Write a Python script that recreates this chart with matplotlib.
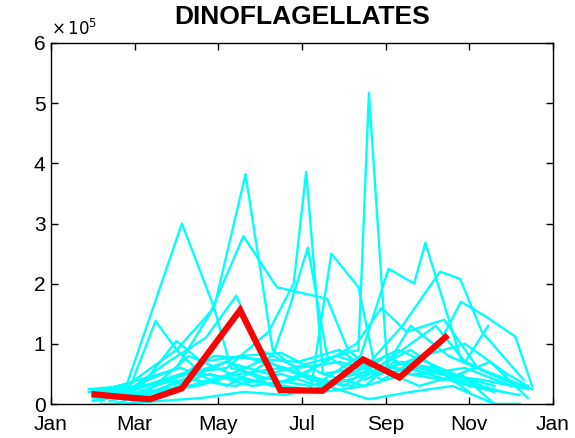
import matplotlib
matplotlib.use('Agg')
import matplotlib.pyplot as plt

# month axis: 1 = Jan 1, 13 = Jan 1 of next year; values in units of 1e5
month_ticks = [1, 3, 5, 7, 9, 11, 13]
month_labels = ['Jan', 'Mar', 'May', 'Jul', 'Sep', 'Nov', 'Jan']

# current year (red)
cur_t = [2.04, 2.8, 3.37, 4.13, 5.52, 6.48, 7.49, 8.46, 9.33, 10.43]
cur_v = [0.16, 0.11, 0.08, 0.26, 1.56, 0.23, 0.22, 0.74, 0.44, 1.11]

# previous years (cyan)
y1_t = [1.95, 2.8, 4.13, 4.9, 5.3, 6.3, 7.2, 8.3, 9.2, 10.3, 11.3, 12.4]
y1_v = [0.25, 0.3, 3.0, 1.6, 0.6, 0.4, 0.3, 0.5, 0.6, 0.5, 0.4, 0.25]
y2_t = [2.0, 2.9, 4.0, 4.9, 5.65, 6.3, 7.0, 8.0, 9.0, 9.9, 10.9, 12.0]
y2_v = [0.2, 0.35, 0.9, 1.6, 3.82, 0.9, 0.5, 0.3, 0.8, 0.5, 0.6, 0.3]
y3_t = [2.0, 3.0, 4.1, 5.2, 6.2, 6.8, 7.1, 7.5, 8.4, 9.3, 10.3, 11.3]
y3_v = [0.1, 0.25, 0.5, 0.6, 1.2, 2.0, 3.86, 0.5, 0.6, 0.9, 0.6, 0.3]
y4_t = [2.2, 3.1, 4.2, 5.2, 6.2, 7.3, 8.35, 8.6, 9.05, 10.0, 11.0, 12.2]
y4_v = [0.05, 0.3, 0.4, 0.7, 0.5, 0.7, 0.9, 5.17, 0.5, 0.5, 0.3, 0.15]
y5_t = [2.1, 3.0, 4.0, 4.8, 5.6, 6.4, 7.6, 8.1, 8.8, 9.8, 10.8, 11.8]
y5_v = [0.15, 0.3, 0.6, 1.5, 2.79, 1.94, 1.75, 0.9, 0.5, 0.6, 0.4, 0.2]
y6_t = [2.0, 3.2, 4.3, 5.3, 6.3, 6.7, 7.14, 7.6, 8.5, 9.4, 10.5, 11.6]
y6_v = [0.05, 0.2, 0.3, 0.5, 0.8, 1.6, 2.6, 0.8, 0.4, 0.7, 0.5, 0.3]
y7_t = [2.3, 3.3, 4.3, 5.2, 6.3, 7.2, 7.7, 8.35, 8.75, 9.6, 10.6, 11.6]
y7_v = [0.1, 0.3, 0.5, 0.7, 0.3, 0.2, 2.5, 1.94, 0.6, 0.9, 0.4, 0.2]
y8_t = [2.5, 3.5, 4.5, 5.5, 6.5, 7.5, 8.4, 9.07, 9.68, 9.95, 10.8, 11.8, 12.5]
y8_v = [0.0, 0.2, 0.3, 0.5, 0.6, 0.4, 0.8, 2.25, 2.0, 2.68, 0.74, 0.4, 0.25]
y9_t = [2.2, 3.3, 4.4, 5.4, 6.5, 7.4, 8.5, 9.4, 10.3, 10.78, 11.3, 12.3]
y9_v = [0.1, 0.1, 0.4, 0.3, 0.5, 0.3, 0.6, 1.3, 2.2, 2.08, 1.2, 0.4]
y10_t = [2.4, 3.4, 4.5, 5.5, 6.6, 7.6, 8.6, 9.5, 10.2, 10.8, 11.4, 12.1, 12.5]
y10_v = [0.05, 0.2, 0.5, 0.8, 0.6, 0.3, 0.5, 0.7, 0.9, 1.7, 1.45, 1.12, 0.3]
y11_t = [1.9, 2.9, 3.8, 4.7, 5.43, 6.0, 6.9, 7.9, 8.9, 9.6, 10.5, 11.5]
y11_v = [0.2, 0.25, 0.7, 1.1, 1.8, 0.9, 0.6, 0.7, 0.5, 1.3, 0.8, 0.5]
y12_t = [2.0, 2.9, 3.5, 4.0, 4.6, 5.6, 6.6, 7.5, 8.5, 9.2, 10.2, 11.0]
y12_v = [0.2, 0.3, 1.38, 0.9, 0.5, 0.4, 0.3, 0.2, 0.3, 0.7, 0.6, 0.2]
y13_t = [2.3, 3.3, 4.3, 5.3, 6.3, 7.3, 8.3, 8.9, 9.5, 10.4, 11.2, 12.3]
y13_v = [0.15, 0.2, 0.8, 0.5, 0.3, 0.6, 1.0, 1.6, 1.2, 1.4, 0.6, 0.3]
y14_t = [2.1, 3.1, 4.0, 4.6, 5.6, 6.5, 7.5, 8.5, 9.5, 10.4, 11.5, 12.4]
y14_v = [0.1, 0.25, 1.05, 0.7, 0.8, 0.85, 0.5, 0.3, 0.5, 0.4, 0.7, 0.1]
y15_t = [2.6, 3.6, 4.6, 5.6, 6.6, 7.6, 8.6, 9.6, 10.6, 11.6, 12.2]
y15_v = [0.0, 0.05, 0.1, 0.2, 0.15, 0.3, 0.08, 0.2, 0.3, 0.0, 0.0]
y16_t = [2.2, 2.85, 3.8, 4.8, 5.8, 6.8, 7.8, 8.8, 9.8, 10.8, 11.6, 12.2]
y16_v = [0.0, 0.0, 0.3, 0.5, 0.3, 0.4, 0.8, 0.6, 0.3, 0.5, 0.0, 0.0]
y17_t = [2.1, 3.1, 4.1, 5.2, 6.2, 7.2, 8.2, 9.2, 10.2, 10.9, 11.45]
y17_v = [0.2, 0.4, 0.6, 0.3, 0.7, 0.4, 0.3, 0.8, 1.3, 0.7, 1.3]
y18_t = [1.9, 2.9, 3.9, 4.9, 5.9, 6.9, 7.9, 8.9, 9.9, 10.9, 11.9, 12.4]
y18_v = [0.25, 0.15, 0.4, 0.8, 0.75, 0.7, 0.9, 0.4, 0.8, 1.0, 0.5, 0.3]

past_years = [(y1_t, y1_v), (y2_t, y2_v), (y3_t, y3_v), (y4_t, y4_v),
              (y5_t, y5_v), (y6_t, y6_v), (y7_t, y7_v), (y8_t, y8_v),
              (y9_t, y9_v), (y10_t, y10_v), (y11_t, y11_v), (y12_t, y12_v),
              (y13_t, y13_v), (y14_t, y14_v), (y15_t, y15_v), (y16_t, y16_v),
              (y17_t, y17_v), (y18_t, y18_v)]

plt.rcParams['font.family'] = ['Liberation Sans', 'DejaVu Sans']

fig = plt.figure(figsize=(5.75, 4.38), dpi=100)
ax = fig.add_axes([51 / 575, 1 - 404 / 438, 502 / 575, 361 / 438])

for t, v in past_years:
    ax.plot(t, v, color='cyan', linewidth=1.7)
ax.plot(cur_t, cur_v, color='red', linewidth=4.5, solid_joinstyle='miter')

ax.set_xlim(1, 13)
ax.set_ylim(0, 6)
ax.set_xticks(month_ticks)
ax.set_xticklabels(month_labels)
ax.set_yticks(range(7))
ax.tick_params(direction='in', top=True, right=True, length=5, width=1,
               labelsize=15)
ax.tick_params(axis='x', pad=8)
ax.tick_params(axis='y', pad=4)
for s in ax.spines.values():
    s.set_linewidth(1)

ax.set_title('DINOFLAGELLATES', fontsize=19, fontweight='bold', pad=14)
ax.text(0.0, 1.015, r'$\times\,10^{5}$', transform=ax.transAxes,
        fontsize=12, ha='left', va='bottom')

fig.savefig('out.png', dpi=100)
